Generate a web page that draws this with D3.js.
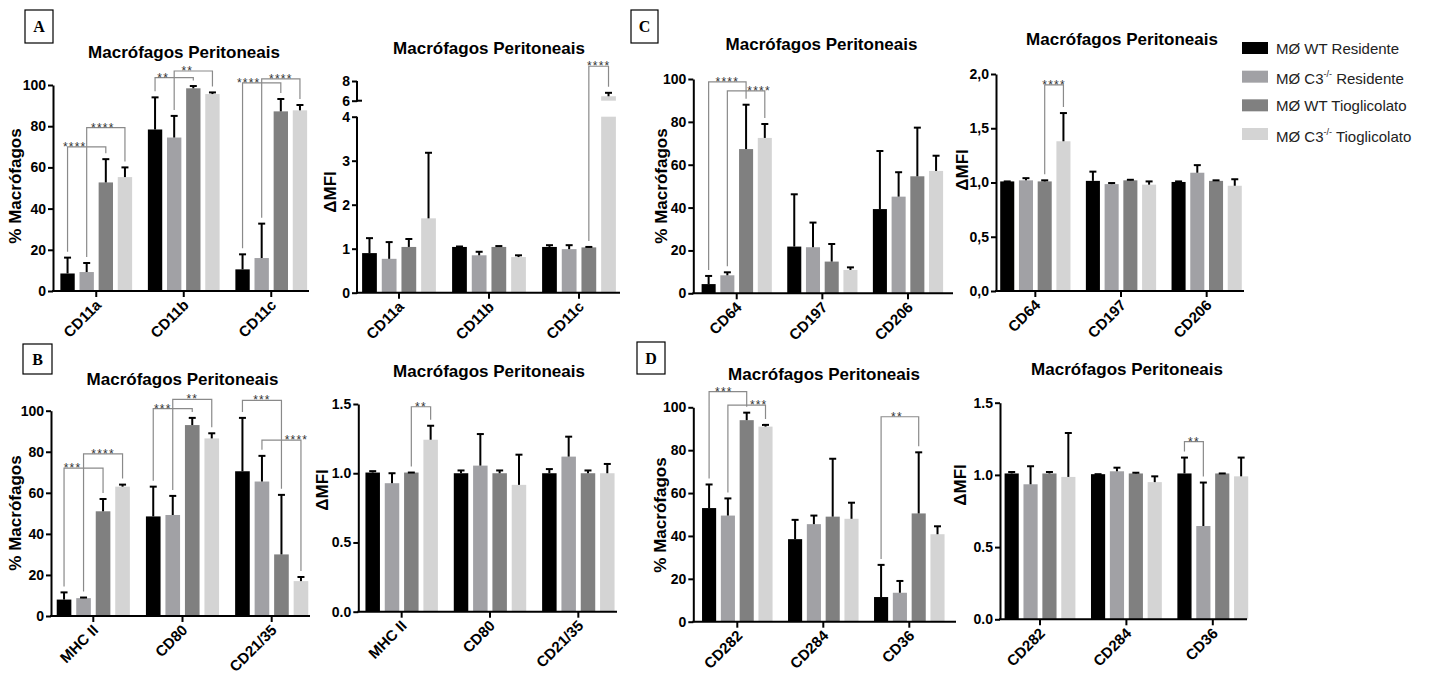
<!DOCTYPE html>
<html>
<head>
<meta charset="utf-8">
<script src="https://cdn.jsdelivr.net/npm/d3@7"></script>
<style>
  body { margin: 0; background: #fff; }
  svg { display: block; font-family: "Liberation Sans", Arial, sans-serif; }
</style>
</head>
<body>
<svg id="fig" width="1440" height="675"></svg>
<script>
// series (same order in every panel)
const seriesColors = ["#000000", "#a1a1a5", "#808080", "#d4d4d4"];
const legendItems = [
  ["MØ WT Residente", ""],
  ["MØ C3", " Residente"],
  ["MØ WT Tioglicolato", ""],
  ["MØ C3", " Tioglicolato"]
];

// A: CD11a / CD11b / CD11c
const catsA = ["CD11a", "CD11b", "CD11c"];
const pctA = [[8.5, 9.2, 52.7, 55.3], [78.4, 74.5, 98.4, 95.6], [10.5, 16, 87.2, 87.7]];
const pctAUp = [[16.2, 13.6, 64, 60], [94, 85, 99.5, 96.4], [17.8, 32.7, 93.2, 90.3]];
const sigPctA = [[0, 0, 2, 70, "****"], [0, 1, 3, 79.3, "****"], [1, 0, 2, 103.6, "**"],
                 [1, 1, 3, 106.8, "**"], [2, 0, 2, 101, "****"], [2, 1, 3, 103, "****"]];
const mfiA = [[0.9, 0.77, 1.04, 1.69], [1.04, 0.85, 1.04, 0.81], [1.04, 0.99, 1.03, 6.45]];
const mfiAUp = [[1.24, 1.15, 1.22, 3.18], [1.05, 0.93, 1.06, 0.85], [1.08, 1.08, 1.04, 6.8]];
const sigMfiA = [[2, 2, 3, 9.5, "****"]];

// B: MHC II / CD80 / CD21/35
const catsB = ["MHC II", "CD80", "CD21/35"];
const pctB = [[8, 8.7, 51, 63], [48.5, 49.2, 93, 86.5], [70.5, 65.5, 30, 17]];
const pctBUp = [[11.5, 9, 57, 64], [63, 58.5, 96.5, 89], [96.5, 78, 59, 19]];
const sigPctB = [[0, 0, 2, 72, "***"], [0, 1, 3, 79, "****"], [1, 0, 2, 101, "***"],
                 [1, 1, 3, 105.5, "**"], [2, 0, 2, 105, "***"], [2, 1, 3, 85.7, "****"]];
const mfiB = [[1.005, 0.928, 1.005, 1.242], [1.0, 1.055, 1.0, 0.916], [1.0, 1.12, 1.0, 1.0]];
const mfiBUp = [[1.015, 1.0, 1.005, 1.343], [1.02, 1.283, 1.02, 1.134], [1.03, 1.264, 1.02, 1.067]];
const sigMfiB = [[0, 2, 3, 1.48, "**"]];

// C: CD64 / CD197 / CD206
const catsC = ["CD64", "CD197", "CD206"];
const pctC = [[4.3, 8.4, 67.3, 72.5], [21.8, 21.5, 14.8, 10.9], [39.3, 45.1, 54.6, 57.1]];
const pctCUp = [[8.1, 9.8, 88, 79], [46.2, 33, 23, 12.1], [66.4, 56.5, 77.3, 64.2]];
const sigPctC = [[0, 0, 2, 98.7, "****"], [0, 1, 3, 94.5, "****"]];
const mfiC = [[1.01, 1.02, 1.01, 1.38], [1.015, 0.985, 1.02, 0.98], [1.005, 1.09, 1.015, 0.97]];
const mfiCUp = [[1.01, 1.04, 1.02, 1.64], [1.1, 0.995, 1.025, 1.01], [1.01, 1.16, 1.02, 1.03]];
const sigMfiC = [[0, 2, 3, 1.9, "****"]];

// D: CD282 / CD284 / CD36
const catsD = ["CD282", "CD284", "CD36"];
const pctD = [[53, 49.5, 94, 91], [38.5, 45.5, 49, 48], [11.5, 13.5, 50.5, 40.8]];
const pctDUp = [[64, 57.5, 97.5, 91.8], [47.5, 49.5, 76, 55.5], [26.5, 19, 79, 44.5]];
const sigPctD = [[0, 0, 2, 107.3, "***"], [0, 1, 3, 101, "***"], [2, 0, 2, 95.6, "**"]];
const mfiD = [[1.01, 0.935, 1.01, 0.986], [1.005, 1.025, 1.01, 0.95], [1.01, 0.646, 1.01, 0.99]];
const mfiDUp = [[1.02, 1.06, 1.02, 1.29], [1.005, 1.05, 1.015, 0.99], [1.12, 0.947, 1.01, 1.12]];
const sigMfiD = [[2, 0, 1, 1.23, "**"]];

const pctTicks = [0, 20, 40, 60, 80, 100];
const mfiTicksA = [0, 1, 2, 3, 4, 6, 8];
const mfiTicks = [0, 0.5, 1.0, 1.5];
const mfiTicksC = [0, 0.5, 1.0, 1.5, 2.0];

const svg = d3.select("#fig");
const TITLE = "Macrófagos Peritoneais";
const fmtDot = d3.format(".1f");
const fmtComma = d => d3.format(".1f")(d).replace(".", ",");

// layout per panel (sigDx: horizontal nudge of each star label)
const panels = [
  { cats: catsA, means: pctA, upper: pctAUp, sig: sigPctA, sigDx: [-12, -3, -11, -6, -13, 0],
    yDomain: [0, 100], yRange: [291, 85],
    ticks: pctTicks, fmt: d3.format("d"), axisX: 53, axisEnd: 309, xRange: [52.5, 315],
    title: [184, 58], yLabel: "% Macrófagos", yLabelPos: [21, 186] },
  { cats: catsA, means: mfiA, upper: mfiAUp, sig: sigMfiA, sigDx: [0],
    yDomain: [0, 4, 6, 8], yRange: [292.7, 116.7, 100.7, 81],
    brk: [4, 6], ticks: mfiTicksA, fmt: d3.format("d"), axisX: 357, axisEnd: 620, xRange: [354, 624],
    title: [489, 54], yLabel: "ΔMFI", yLabelPos: [336, 192] },
  { cats: catsC, means: pctC, upper: pctCUp, sig: sigPctC, sigDx: [0, 13],
    yDomain: [0, 100], yRange: [293.3, 79],
    ticks: pctTicks, fmt: d3.format("d"), axisX: 693.3, axisEnd: 953, xRange: [693.9, 950.8],
    title: [821.5, 50], yLabel: "% Macrófagos", yLabelPos: [667, 186] },
  { cats: catsC, means: mfiC, upper: mfiCUp, sig: sigMfiC, sigDx: [0],
    yDomain: [0, 2], yRange: [291, 74],
    ticks: mfiTicksC, fmt: fmtComma, axisX: 996, axisEnd: 1244, xRange: [992.5, 1249.5],
    title: [1122, 45], yLabel: "ΔMFI", yLabelPos: [968, 170] },
  { cats: catsB, means: pctB, upper: pctBUp, sig: sigPctB, sigDx: [-11, 0, -10, 0, 0, 15],
    yDomain: [0, 100], yRange: [616, 410.7],
    ticks: pctTicks, fmt: d3.format("d"), axisX: 51, axisEnd: 310, xRange: [48.7, 316.3],
    title: [182.5, 385], yLabel: "% Macrófagos", yLabelPos: [21, 513] },
  { cats: catsB, means: mfiB, upper: mfiBUp, sig: sigMfiB, sigDx: [0],
    yDomain: [0, 1.5], yRange: [611.7, 404],
    ticks: mfiTicks, fmt: fmtDot, axisX: 358.3, axisEnd: 617, xRange: [357.5, 622.5],
    title: [489, 377], yLabel: "ΔMFI", yLabelPos: [328, 490] },
  { cats: catsD, means: pctD, upper: pctDUp, sig: sigPctD, sigDx: [-4, 12, -3],
    yDomain: [0, 100], yRange: [621.7, 407.3],
    ticks: pctTicks, fmt: d3.format("d"), axisX: 693.3, axisEnd: 956, xRange: [694.3, 952.3],
    title: [824, 380], yLabel: "% Macrófagos", yLabelPos: [666, 515] },
  { cats: catsD, means: mfiD, upper: mfiDUp, sig: sigMfiD, sigDx: [0],
    yDomain: [0, 1.5], yRange: [619.3, 402.7],
    ticks: mfiTicks, fmt: fmtDot, axisX: 1000, axisEnd: 1247, xRange: [996.8, 1256],
    title: [1127, 375], yLabel: "ΔMFI", yLabelPos: [966, 485] }
];

panels.forEach(drawPanel);

function drawPanel(p) {
  const g = svg.append("g");
  const x0 = d3.scaleBand().domain(p.cats).range(p.xRange).paddingInner(0.18).paddingOuter(0.09);
  const x1 = d3.scaleBand().domain(d3.range(4)).range([0, x0.bandwidth()]).paddingInner(0.25);
  const y = d3.scaleLinear().domain(p.yDomain).range(p.yRange);
  const yBase = y(0);

  const rows = p.cats.flatMap((c, i) => p.means[i].map((v, j) =>
    ({ cat: c, s: j, v: v, up: p.upper[i][j] })));
  const cx = d => x0(d.cat) + x1(d.s) + x1.bandwidth() / 2;

  // bars (split in two around an axis break)
  rows.forEach(d => {
    const segs = (p.brk && d.v > p.brk[1]) ? [[0, p.brk[0]], [p.brk[1], d.v]] : [[0, d.v]];
    segs.forEach(([a, b]) => {
      g.append("rect")
        .attr("x", x0(d.cat) + x1(d.s))
        .attr("width", x1.bandwidth())
        .attr("y", y(b))
        .attr("height", y(a) - y(b))
        .attr("fill", seriesColors[d.s]);
    });
  });

  // error bars (upper only)
  const err = g.selectAll(".err").data(rows).join("g").attr("class", "err")
    .attr("stroke", "#000").attr("stroke-width", 2);
  err.append("line")
    .attr("x1", cx).attr("x2", cx)
    .attr("y1", d => y(d.v)).attr("y2", d => y(d.up));
  err.append("line")
    .attr("x1", d => cx(d) - 3.5).attr("x2", d => cx(d) + 3.5)
    .attr("y1", d => y(d.up)).attr("y2", d => y(d.up));

  // y axis
  const yAxis = g.append("g").attr("transform", `translate(${p.axisX},0)`)
    .call(d3.axisLeft(y).tickValues(p.ticks).tickFormat(p.fmt).tickSize(5).tickSizeOuter(0).tickPadding(2));
  if (p.brk) {
    yAxis.select(".domain").remove();
    const top = p.yDomain[p.yDomain.length - 1];
    [[0, p.brk[0]], [p.brk[1], top]].forEach(([a, b]) => {
      yAxis.append("line").attr("x1", 0).attr("x2", 0).attr("y1", y(a) + 1).attr("y2", y(b))
        .attr("stroke", "#000").attr("stroke-width", 2);
    });
    yAxis.append("line").attr("x1", 0).attr("x2", 5).attr("y1", y(p.brk[1])).attr("y2", y(p.brk[1]))
      .attr("stroke", "#000").attr("stroke-width", 2);
  }
  yAxis.selectAll("path,line").attr("stroke", "#000").attr("stroke-width", 2);
  yAxis.selectAll("text").attr("fill", "#000").attr("font-size", 14).attr("font-weight", "bold")
    .attr("font-family", "'Liberation Sans', Arial, sans-serif");

  // x axis
  const xAxis = g.append("g").attr("transform", `translate(0,${yBase})`)
    .call(d3.axisBottom(x0).tickSize(6).tickFormat(""));
  xAxis.select(".domain").remove();
  xAxis.selectAll("line").attr("stroke", "#000").attr("stroke-width", 2);
  g.append("line").attr("x1", p.axisX - 1).attr("x2", p.axisEnd)
    .attr("y1", yBase).attr("y2", yBase).attr("stroke", "#000").attr("stroke-width", 2);
  g.selectAll(".xlab").data(p.cats).join("text").attr("class", "xlab")
    .attr("transform", c => `translate(${x0(c) + x0.bandwidth() / 2 + 6},${yBase + 15}) rotate(-45)`)
    .attr("text-anchor", "end")
    .attr("font-size", 15).attr("font-weight", "bold")
    .text(c => c);

  // significance brackets
  p.sig.forEach(([gi, a, b, level, label], k) => {
    const c = p.cats[gi];
    const xa = x0(c) + x1(a) + x1.bandwidth() / 2;
    const xb = x0(c) + x1(b) + x1.bandwidth() / 2;
    const ly = y(level);
    const leg = s => Math.max(ly + 3, y(p.upper[gi][s]) - 6);
    g.append("path")
      .attr("d", `M${xa},${leg(a)}V${ly}H${xb}V${leg(b)}`)
      .attr("fill", "none").attr("stroke", "#8a8a8a").attr("stroke-width", 1.2);
    g.append("text")
      .attr("x", (xa + xb) / 2 + (p.sigDx[k] || 0)).attr("y", ly + 4)
      .attr("text-anchor", "middle")
      .attr("font-size", 12).attr("letter-spacing", 1.2)
      .attr("fill", "#333")
      .text(label);
  });

  // titles
  g.append("text").attr("x", p.title[0]).attr("y", p.title[1])
    .attr("text-anchor", "middle").attr("font-size", 17).attr("font-weight", "bold")
    .text(TITLE);
  g.append("text")
    .attr("transform", `translate(${p.yLabelPos[0]},${p.yLabelPos[1]}) rotate(-90)`)
    .attr("text-anchor", "middle").attr("font-size", 17).attr("font-weight", "bold")
    .text(p.yLabel);
}

// panel letters
const letters = [["A", 25, 10, 28, 33], ["B", 23, 344, 29, 30], ["C", 631, 10, 27, 33], ["D", 637, 342, 28, 32]];
letters.forEach(([t, x, y, w, h]) => {
  svg.append("rect").attr("x", x).attr("y", y).attr("width", w).attr("height", h)
    .attr("fill", "none").attr("stroke", "#000").attr("stroke-width", 1.2);
  svg.append("text").attr("x", x + w / 2).attr("y", y + h / 2 + 5.5)
    .attr("text-anchor", "middle").attr("font-family", "'Liberation Serif', 'Times New Roman', serif")
    .attr("font-weight", "bold").attr("font-size", 16).text(t);
});

// legend
const legY = d3.scalePoint().domain(d3.range(4)).range([42, 128]);
const leg = svg.append("g");
legendItems.forEach(([a, b], i) => {
  leg.append("rect").attr("x", 1242).attr("y", legY(i)).attr("width", 26).attr("height", 12)
    .attr("fill", seriesColors[i]);
  const t = leg.append("text").attr("x", 1276).attr("y", legY(i) + 12 + (i % 2 ? 1.5 : 0))
    .attr("font-size", 15).attr("fill", "#222");
  t.append("tspan").text(a);
  if (b) {
    t.append("tspan").attr("font-size", 9).attr("dy", -7).text("-/-");
    t.append("tspan").attr("dy", 7).text(b);
  }
});
</script>
</body>
</html>
